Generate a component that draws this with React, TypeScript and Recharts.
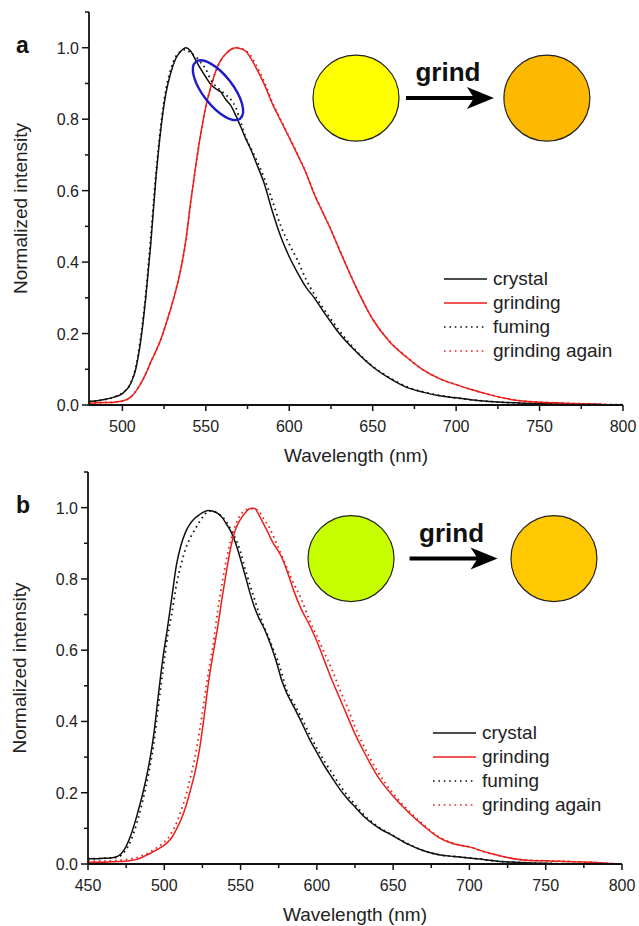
import React from 'react';
import { LineChart, Line, XAxis, YAxis, Legend, ReferenceDot } from 'recharts';

const FONT = '"Liberation Sans", Arial, Helvetica, sans-serif';
const BLACK = '#111111';
const RED = '#ea1f1c';

// ---- panel a ----
const waveA = [
  480, 485, 490, 495, 500, 505, 508, 511, 514, 517,
  520, 523, 526, 529, 532, 535, 538, 541, 544, 547,
  550, 553, 556, 559, 562, 565, 568, 571, 574, 577,
  580, 585, 590, 595, 600, 605, 610, 615, 620, 625,
  630, 640, 650, 660, 670, 680, 690, 700, 710, 720,
  730, 740, 750, 760, 770, 780, 790, 800,
];
const crystalA = [
  0.010, 0.012, 0.016, 0.022, 0.032, 0.060, 0.100, 0.180, 0.300, 0.450,
  0.630, 0.770, 0.870, 0.930, 0.970, 0.990, 1.000, 0.990, 0.965, 0.940,
  0.918, 0.897, 0.885, 0.876, 0.855, 0.838, 0.810, 0.778, 0.745, 0.715,
  0.680, 0.620, 0.540, 0.470, 0.415, 0.370, 0.330, 0.300, 0.265, 0.232,
  0.200, 0.150, 0.107, 0.075, 0.050, 0.036, 0.026, 0.020, 0.014, 0.010,
  0.007, 0.005, 0.004, 0.003, 0.002, 0.002, 0.001, 0.001,
];
const grindingA = [
  0.005, 0.006, 0.007, 0.008, 0.011, 0.022, 0.038, 0.060, 0.087, 0.120,
  0.150, 0.183, 0.225, 0.270, 0.320, 0.380, 0.460, 0.570, 0.670, 0.760,
  0.835, 0.890, 0.935, 0.965, 0.983, 0.995, 1.000, 0.997, 0.990, 0.970,
  0.945, 0.898, 0.842, 0.795, 0.748, 0.700, 0.650, 0.590, 0.540, 0.490,
  0.435, 0.330, 0.240, 0.178, 0.135, 0.099, 0.074, 0.057, 0.042, 0.029,
  0.018, 0.011, 0.008, 0.006, 0.004, 0.003, 0.001, 0.000,
];
const fumingA = [
  0.010, 0.012, 0.016, 0.022, 0.034, 0.062, 0.105, 0.190, 0.310, 0.470,
  0.640, 0.780, 0.880, 0.940, 0.975, 0.990, 0.995, 0.985, 0.975, 0.958,
  0.940, 0.910, 0.892, 0.880, 0.868, 0.855, 0.832, 0.790, 0.748, 0.718,
  0.690, 0.635, 0.570, 0.500, 0.450, 0.405, 0.352, 0.310, 0.273, 0.240,
  0.208, 0.152, 0.108, 0.077, 0.052, 0.037, 0.027, 0.020, 0.014, 0.010,
  0.007, 0.005, 0.004, 0.003, 0.002, 0.002, 0.001, 0.001,
];
const againA = [
  0.005, 0.006, 0.007, 0.008, 0.011, 0.022, 0.038, 0.060, 0.087, 0.120,
  0.150, 0.183, 0.225, 0.270, 0.320, 0.380, 0.460, 0.570, 0.670, 0.760,
  0.835, 0.890, 0.935, 0.965, 0.983, 0.995, 1.000, 0.998, 0.992, 0.977,
  0.953, 0.905, 0.846, 0.797, 0.750, 0.702, 0.651, 0.592, 0.541, 0.491,
  0.436, 0.331, 0.241, 0.179, 0.136, 0.099, 0.074, 0.057, 0.042, 0.029,
  0.018, 0.011, 0.008, 0.006, 0.004, 0.003, 0.001, 0.000,
];

// ---- panel b ----
const waveB = [
  450, 455, 460, 465, 470, 474, 478, 482, 486, 490,
  493, 496, 499, 502, 505, 508, 511, 514, 517, 520,
  523, 526, 529, 532, 535, 538, 541, 544, 547, 550,
  553, 556, 559, 562, 565, 568, 571, 574, 577, 580,
  585, 590, 595, 600, 605, 610, 615, 620, 625, 630,
  640, 650, 660, 670, 680, 690, 700, 710, 720, 730,
  740, 750, 760, 770, 780, 790, 800,
];
const crystalB = [
  0.015, 0.015, 0.016, 0.017, 0.023, 0.042, 0.080, 0.135, 0.200, 0.280,
  0.360, 0.470, 0.575, 0.660, 0.750, 0.840, 0.895, 0.932, 0.955, 0.970,
  0.980, 0.988, 0.992, 0.990, 0.984, 0.972, 0.952, 0.930, 0.897, 0.855,
  0.810, 0.763, 0.722, 0.690, 0.665, 0.635, 0.600, 0.560, 0.515, 0.482,
  0.440, 0.397, 0.352, 0.313, 0.275, 0.242, 0.210, 0.183, 0.160, 0.137,
  0.103, 0.079, 0.055, 0.037, 0.026, 0.021, 0.017, 0.012, 0.007, 0.005,
  0.003, 0.002, 0.001, 0.001, 0.000, 0.000, 0.000,
];
const grindingB = [
  0.005, 0.005, 0.005, 0.006, 0.007, 0.008, 0.010, 0.013, 0.020, 0.028,
  0.035, 0.042, 0.050, 0.060, 0.075, 0.098, 0.125, 0.160, 0.205, 0.255,
  0.320, 0.410, 0.510, 0.590, 0.665, 0.750, 0.828, 0.897, 0.942, 0.968,
  0.985, 0.997, 0.998, 0.980, 0.955, 0.930, 0.903, 0.883, 0.860, 0.828,
  0.765, 0.713, 0.672, 0.625, 0.570, 0.515, 0.465, 0.415, 0.365, 0.322,
  0.245, 0.190, 0.145, 0.107, 0.074, 0.056, 0.048, 0.034, 0.023, 0.014,
  0.010, 0.009, 0.008, 0.006, 0.005, 0.002, 0.000,
];
const fumingB = [
  0.015, 0.015, 0.016, 0.017, 0.020, 0.035, 0.065, 0.115, 0.180, 0.260,
  0.335, 0.440, 0.540, 0.635, 0.705, 0.785, 0.840, 0.885, 0.915, 0.938,
  0.960, 0.978, 0.990, 0.990, 0.984, 0.975, 0.958, 0.935, 0.910, 0.875,
  0.828, 0.785, 0.745, 0.705, 0.670, 0.640, 0.607, 0.575, 0.535, 0.490,
  0.450, 0.410, 0.365, 0.325, 0.288, 0.255, 0.222, 0.192, 0.167, 0.142,
  0.105, 0.080, 0.056, 0.037, 0.026, 0.021, 0.017, 0.012, 0.007, 0.005,
  0.003, 0.002, 0.001, 0.001, 0.000, 0.000, 0.000,
];
const againB = [
  0.008, 0.008, 0.008, 0.009, 0.010, 0.012, 0.015, 0.018, 0.024, 0.032,
  0.040, 0.048, 0.058, 0.070, 0.090, 0.115, 0.150, 0.190, 0.240, 0.298,
  0.370, 0.455, 0.540, 0.615, 0.710, 0.790, 0.860, 0.915, 0.955, 0.980,
  0.992, 0.998, 0.997, 0.990, 0.970, 0.950, 0.925, 0.895, 0.865, 0.835,
  0.785, 0.742, 0.685, 0.640, 0.592, 0.545, 0.490, 0.440, 0.385, 0.338,
  0.258, 0.198, 0.150, 0.110, 0.076, 0.057, 0.048, 0.034, 0.023, 0.014,
  0.010, 0.009, 0.008, 0.006, 0.005, 0.002, 0.000,
];

const yTicks = [0, 0.1, 0.2, 0.3, 0.4, 0.5, 0.6, 0.7, 0.8, 0.9, 1.0, 1.1];
const xTicksA = [500, 525, 550, 575, 600, 625, 650, 675, 700, 725, 750, 775, 800];
const xTicksB = [450, 475, 500, 525, 550, 575, 600, 625, 650, 675, 700, 725, 750, 775, 800];

const series = [
  { key: 'crystal', name: 'crystal', color: BLACK, dash: undefined as string | undefined },
  { key: 'grinding', name: 'grinding', color: RED, dash: undefined as string | undefined },
  { key: 'fuming', name: 'fuming', color: BLACK, dash: '1.6 3.8' },
  { key: 'again', name: 'grinding again', color: RED, dash: '1.6 3.8' },
];

const buildRows = (wl: number[], c: number[], g: number[], f: number[], a: number[]) =>
  wl.map((w, i) => ({ wl: w, crystal: c[i], grinding: g[i], fuming: f[i], again: a[i] }));

const rowsA = buildRows(waveA, crystalA, grindingA, fumingA, againA);
const rowsB = buildRows(waveB, crystalB, grindingB, fumingB, againB);

function YTick(props: any) {
  const { x, y, payload } = props;
  const v = payload.value as number;
  const major = Math.round(v * 10) % 2 === 0;
  return (
    <g>
      <line x1={x} y1={y} x2={x - (major ? 7 : 4)} y2={y} stroke={BLACK} strokeWidth={1.5} />
      {major && (
        <text x={x - 10} y={y + 6} textAnchor="end" fontSize={16} fontFamily={FONT} fill="#222">
          {v.toFixed(1)}
        </text>
      )}
    </g>
  );
}

function XTick(props: any) {
  const { x, y, payload } = props;
  const v = payload.value as number;
  const major = v % 50 === 0;
  return (
    <g>
      <line x1={x} y1={y} x2={x} y2={y + (major ? 6 : 4)} stroke={BLACK} strokeWidth={1.5} />
      {major && (
        <text x={x} y={y + 27} textAnchor="middle" fontSize={16} fontFamily={FONT} fill="#222">
          {v}
        </text>
      )}
    </g>
  );
}

const LegendBox = () => (
  <div style={{ fontFamily: FONT, fontSize: 19, color: '#222', lineHeight: '24px' }}>
    {series.map((s) => (
      <div key={s.key} style={{ display: 'flex', alignItems: 'center', height: 24 }}>
        <svg width={43} height={4} style={{ display: 'block' }}>
          <line x1={0} y1={2} x2={43} y2={2} stroke={s.color} strokeWidth={1.7} strokeDasharray={s.dash} />
        </svg>
        <span style={{ marginLeft: 6, whiteSpace: 'nowrap' }}>{s.name}</span>
      </div>
    ))}
  </div>
);

const disc = (fill: string) => (p: any) => (
  <circle cx={p.cx} cy={p.cy} r={43} fill={fill} stroke="#222" strokeWidth={1.2} />
);

const grindArrow = (p: any) => (
  <g>
    <text x={p.cx - 2} y={p.cy - 17} textAnchor="middle" fontSize={26} fontWeight="bold" fontFamily={FONT} fill="#111">
      grind
    </text>
    <line x1={p.cx - 44} y1={p.cy} x2={p.cx + 26} y2={p.cy} stroke="#000" strokeWidth={4} />
    <path
      d={`M${p.cx + 44},${p.cy} L${p.cx + 17},${p.cy - 11} L${p.cx + 24},${p.cy} L${p.cx + 17},${p.cy + 11} Z`}
      fill="#000"
    />
  </g>
);

const ring = (p: any) => (
  <ellipse
    cx={p.cx}
    cy={p.cy}
    rx={36}
    ry={15}
    transform={`rotate(52 ${p.cx} ${p.cy})`}
    fill="none"
    stroke="#1d1dc8"
    strokeWidth={2.4}
  />
);

type PanelProps = {
  rows: any[];
  domain: [number, number];
  xTicks: number[];
  top: number;
  height: number;
  plotTop: number;
  plotLeft: number;
  plotRight: number;
  legendLeft: number;
  legendTop: number;
  circleY: number;
  leftDisc: [number, string];
  rightDisc: [number, string];
  arrowX: number;
  ringAt?: [number, number];
  letter: string;
};

function Panel(p: PanelProps) {
  return (
    <div style={{ position: 'absolute', left: 0, top: p.top, width: 639, height: p.height }}>
      <LineChart
        width={639}
        height={p.height}
        data={p.rows}
        margin={{ top: p.plotTop, right: 639 - p.plotRight, left: p.plotLeft - 89, bottom: 4 }}
      >
        <XAxis
          dataKey="wl"
          type="number"
          domain={p.domain}
          ticks={p.xTicks}
          interval={0}
          allowDataOverflow
          height={58}
          tickSize={0}
          tickMargin={0}
          tickLine={false}
          axisLine={{ stroke: BLACK, strokeWidth: 1.8 }}
          tick={<XTick />}
          label={{
            value: 'Wavelength (nm)',
            position: 'insideBottom',
            offset: 1,
            fontSize: 19,
            fill: '#222',
            style: { fontFamily: FONT, fontSize: 19 },
          }}
        />
        <YAxis
          type="number"
          domain={[0, 1.1]}
          ticks={yTicks}
          interval={0}
          allowDataOverflow
          width={89}
          tickSize={0}
          tickMargin={0}
          tickLine={false}
          axisLine={{ stroke: BLACK, strokeWidth: 1.8 }}
          tick={<YTick />}
          label={{
            value: 'Normalized intensity',
            angle: -90,
            position: 'insideLeft',
            offset: 20,
            fontSize: 19,
            fill: '#222',
            style: { textAnchor: 'middle', fontFamily: FONT, fontSize: 19 },
          }}
        />
        {series.map((s) => (
          <Line
            key={s.key}
            dataKey={s.key}
            name={s.name}
            type="monotone"
            stroke={s.color}
            strokeWidth={s.dash ? 1.8 : 1.5}
            strokeDasharray={s.dash}
            dot={false}
            activeDot={false}
            isAnimationActive={false}
          />
        ))}
        <Legend
          layout="vertical"
          align="center"
          verticalAlign="middle"
          content={<LegendBox />}
          wrapperStyle={{ left: p.legendLeft, top: p.legendTop, width: 'auto', height: 'auto' }}
        />
        {p.ringAt && (
          <ReferenceDot x={p.ringAt[0]} y={p.ringAt[1]} ifOverflow="visible" shape={ring} />
        )}
        <ReferenceDot x={p.leftDisc[0]} y={p.circleY} ifOverflow="visible" shape={disc(p.leftDisc[1])} />
        <ReferenceDot x={p.rightDisc[0]} y={p.circleY} ifOverflow="visible" shape={disc(p.rightDisc[1])} />
        <ReferenceDot x={p.arrowX} y={p.circleY} ifOverflow="visible" shape={grindArrow} />
      </LineChart>
      <div
        style={{
          position: 'absolute',
          left: 16,
          top: p.plotTop + 22,
          fontFamily: FONT,
          fontWeight: 'bold',
          fontSize: 23,
          lineHeight: '23px',
          color: '#111',
        }}
      >
        {p.letter}
      </div>
    </div>
  );
}

export default function App() {
  return (
    <div style={{ position: 'absolute', left: 0, top: 0, width: 639, height: 926, background: '#fff' }}>
      <Panel
        rows={rowsA}
        domain={[480, 800]}
        xTicks={xTicksA}
        top={0}
        height={467}
        plotTop={12}
        plotLeft={89}
        plotRight={623}
        legendLeft={444}
        legendTop={267}
        circleY={0.859}
        leftDisc={[640, '#ffff00']}
        rightDisc={[754.4, '#fdb800']}
        arrowX={696.3}
        ringAt={[557.3, 0.881]}
        letter="a"
      />
      <Panel
        rows={rowsB}
        domain={[450, 800]}
        xTicks={xTicksB}
        top={460}
        height={466}
        plotTop={12}
        plotLeft={88}
        plotRight={622}
        legendLeft={433}
        legendTop={261}
        circleY={0.857}
        leftDisc={[622.4, '#c6ff00']}
        rightDisc={[755.4, '#ffc800']}
        arrowX={689.6}
        letter="b"
      />
    </div>
  );
}
